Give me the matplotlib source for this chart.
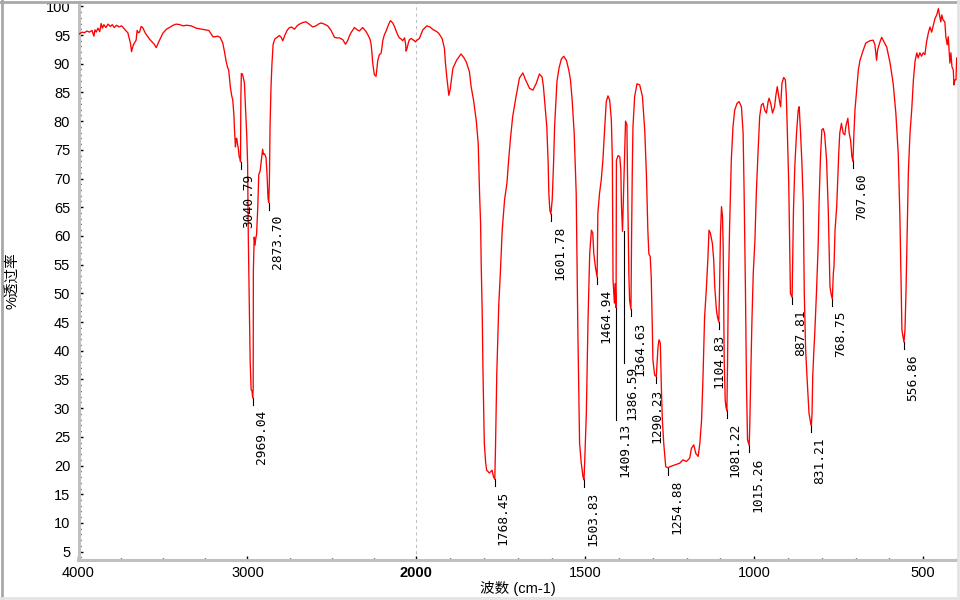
import numpy as np
import matplotlib.pyplot as plt
from matplotlib.lines import Line2D

plt.rcParams['font.family'] = ['Liberation Sans', 'Noto Sans CJK SC', 'DejaVu Sans']

# -------------------------
# spectrum (wavenumber cm-1, %T)
# -------------------------
wavenumber = [
    4000, 3990, 3978, 3965, 3950, 3935, 3920, 3909, 3903, 3895, 3885, 3874, 3866, 3858,
    3850, 3838, 3825, 3812, 3800, 3788, 3775, 3760, 3745, 3730, 3718, 3708, 3702, 3692,
    3686, 3680, 3675, 3665, 3659, 3653, 3645, 3639, 3629, 3620, 3604, 3590, 3580, 3564,
    3552, 3540, 3525, 3512, 3501, 3480, 3462, 3440, 3422, 3400, 3383, 3360, 3334, 3304,
    3270, 3250, 3229, 3215, 3205, 3190, 3176, 3162, 3146, 3136, 3126, 3118, 3111, 3101,
    3093, 3087, 3080, 3077, 3071, 3067, 3063, 3058, 3055, 3049, 3044, 3041, 3039, 3036,
    3030, 3024, 3018, 3012, 3008, 3004, 2999, 2995, 2989, 2984, 2978, 2973, 2969, 2966,
    2965, 2960, 2955, 2951, 2946, 2939, 2933, 2925, 2915, 2910, 2905, 2898, 2890, 2884,
    2878, 2874, 2870, 2866, 2860, 2855, 2848, 2838, 2825, 2811, 2800, 2791, 2778, 2767,
    2755, 2741, 2730, 2722, 2706, 2692, 2670, 2653, 2635, 2614, 2594, 2580, 2564, 2545,
    2525, 2505, 2485, 2470, 2456, 2436, 2420, 2407, 2397, 2387, 2367, 2350, 2337, 2318,
    2300, 2288, 2275, 2268, 2262, 2259, 2249, 2239, 2234, 2229, 2219, 2209, 2204, 2199,
    2190, 2179, 2165, 2154, 2140, 2130, 2120, 2110, 2101, 2090, 2081, 2070, 2064, 2061,
    2056, 2052, 2046, 2041, 2030, 2022, 2012, 2006, 2000, 1991, 1985, 1981, 1969, 1960,
    1952, 1940, 1934, 1924, 1917, 1914, 1910, 1904, 1900, 1897, 1892, 1881, 1868, 1860,
    1853, 1843, 1838, 1831, 1823, 1817, 1813, 1810, 1808, 1805, 1803, 1799, 1795, 1792,
    1784, 1776, 1772, 1768, 1766, 1762, 1756, 1752, 1746, 1739, 1732, 1727, 1722, 1715,
    1705, 1695, 1685, 1677, 1665, 1655, 1645, 1636, 1628, 1624, 1619, 1614, 1610, 1608,
    1605, 1602, 1598, 1594, 1591, 1584, 1578, 1571, 1564, 1556, 1549, 1544, 1539, 1533,
    1527, 1522, 1517, 1512, 1507, 1504, 1502, 1497, 1492, 1487, 1482, 1478, 1475, 1470,
    1465, 1463, 1458, 1453, 1448, 1443, 1438, 1433, 1428, 1423, 1420, 1418, 1414, 1412,
    1409, 1408, 1403, 1398, 1395, 1393, 1390, 1388, 1384, 1381, 1377, 1374, 1371, 1369,
    1365, 1363, 1361, 1359, 1354, 1347, 1339, 1331, 1324, 1319, 1315, 1312, 1308, 1305,
    1302, 1300, 1295, 1290, 1285, 1282, 1278, 1275, 1272, 1268, 1262, 1255, 1250, 1236,
    1221, 1211, 1201, 1191, 1186, 1179, 1173, 1166, 1161, 1156, 1152, 1147, 1142, 1137,
    1134, 1130, 1124, 1120, 1117, 1112, 1109, 1105, 1103, 1100, 1097, 1094, 1092, 1089,
    1086, 1084, 1081, 1079, 1077, 1073, 1068, 1063, 1058, 1051, 1045, 1038, 1033, 1030,
    1026, 1023, 1020, 1015, 1013, 1011, 1007, 1003, 998, 994, 989, 984, 979, 974,
    969, 964, 959, 956, 951, 946, 940, 936, 932, 926, 922, 918, 913, 908,
    905, 902, 898, 895, 893, 888, 886, 884, 880, 875, 870, 867, 863, 859,
    855, 852, 848, 844, 838, 833, 831, 829, 827, 824, 821, 816, 811, 808,
    804, 800, 796, 792, 786, 781, 778, 776, 773, 769, 766, 764, 761, 756,
    753, 750, 747, 742, 737, 732, 729, 723, 719, 715, 711, 708, 705, 702,
    697, 692, 687, 679, 670, 658, 648, 643, 638, 635, 628, 623, 616, 608,
    598, 589, 581, 574, 569, 566, 563, 559, 557, 554, 551, 547, 544, 539,
    534, 529, 524, 519, 515, 510, 505, 500, 495, 490, 485, 480, 475, 470,
    465, 460, 455, 452, 448, 445, 441, 436, 433, 429, 426, 421, 418, 415,
    411, 409, 406, 403, 401,
]
transmittance = [
    95.1, 95.3, 95.5, 95.4, 95.7, 95.5, 95.8, 94.8, 95.9, 95.5, 96.2, 95.6, 97.0, 96.2,
    96.8, 96.3, 96.9, 96.5, 96.8, 96.3, 96.7, 96.4, 96.6, 96.1, 95.7, 95.4, 94.7, 93.5,
    92.1, 92.8, 93.3, 93.8, 94.1, 95.8, 95.4, 95.5, 96.5, 96.3, 95.3, 94.7, 94.3, 93.8,
    93.4, 92.8, 93.8, 94.6, 95.3, 96.0, 96.3, 96.7, 96.9, 96.8, 96.6, 96.7, 96.6, 96.2,
    96.0, 95.9, 95.8, 95.2, 94.7, 94.7, 94.8, 94.6, 93.6, 92.1, 90.4, 89.4, 88.9, 85.9,
    84.4, 83.7, 81.0, 78.7, 75.5, 77.0, 77.0, 75.8, 75.5, 73.8, 73.5, 72.9, 84.0, 88.3,
    88.2, 87.5, 86.7, 82.5, 80.0, 77.5, 72.5, 60.0, 48.5, 38.2, 33.2, 33.0, 31.8, 33.4,
    53.9, 59.8, 58.4, 59.6, 60.2, 64.9, 70.7, 71.3, 73.8, 75.1, 74.2, 74.3, 73.6, 70.7,
    66.5, 65.8, 69.5, 79.4, 86.4, 89.9, 93.4, 94.3, 94.6, 94.9, 94.6, 94.0, 95.0, 95.7,
    96.2, 96.4, 96.2, 96.0, 96.6, 96.9, 97.2, 97.3, 96.9, 96.4, 96.6, 96.9, 97.1, 96.9,
    96.6, 95.8, 94.6, 94.5, 94.5, 94.2, 93.4, 94.0, 94.8, 95.4, 96.3, 95.9, 95.7, 96.3,
    95.7, 95.1, 94.3, 93.4, 91.5, 90.2, 88.1, 87.8, 89.0, 90.5, 91.6, 91.8, 92.8, 94.0,
    95.0, 95.7, 96.8, 97.5, 97.1, 96.5, 95.7, 95.0, 94.5, 94.3, 94.0, 94.5, 93.5, 92.2,
    92.6, 93.1, 93.8, 94.2, 94.4, 94.2, 94.0, 93.8, 94.0, 94.4, 95.3, 95.9, 96.6, 96.4,
    96.0, 95.6, 95.3, 94.4, 92.7, 90.1, 87.7, 84.5, 85.5, 86.9, 89.2, 90.6, 91.7, 91.1,
    90.4, 88.6, 86.0, 83.7, 80.2, 76.1, 67.4, 62.2, 54.6, 45.9, 36.7, 23.9, 20.5, 19.2,
    18.7, 19.2, 18.1, 17.6, 22.7, 36.1, 48.3, 52.9, 61.0, 66.3, 69.2, 73.2, 76.7, 80.8,
    84.3, 87.5, 88.4, 87.2, 85.7, 85.4, 86.6, 88.2, 87.7, 86.0, 82.5, 79.0, 72.7, 67.4,
    64.5, 63.8, 66.3, 72.7, 79.0, 86.9, 89.2, 90.8, 91.3, 90.6, 88.9, 87.2, 83.7, 77.9,
    67.4, 43.0, 23.9, 20.4, 18.1, 17.5, 20.4, 29.1, 45.4, 57.0, 61.0, 60.5, 57.0, 54.5,
    52.8, 63.9, 67.4, 69.7, 73.2, 78.5, 83.4, 84.4, 83.7, 80.2, 73.2, 52.3, 48.3, 51.7,
    47.5, 73.2, 74.0, 73.8, 71.5, 65.1, 60.8, 65.1, 73.2, 80.0, 79.4, 65.1, 52.9, 48.8,
    47.2, 60.5, 71.5, 79.0, 84.3, 86.5, 86.3, 84.3, 78.2, 70.3, 61.0, 56.9, 56.4, 52.9,
    44.8, 38.4, 35.8, 35.5, 40.6, 41.9, 41.3, 33.7, 27.9, 23.9, 19.8, 19.6, 19.8, 20.1,
    20.4, 21.0, 20.7, 21.3, 23.0, 23.6, 22.1, 21.6, 23.9, 27.9, 34.9, 45.9, 50.6, 56.4,
    61.0, 60.5, 58.7, 55.8, 51.2, 47.1, 45.9, 45.0, 50.0, 60.5, 65.1, 63.4, 58.1, 38.4,
    31.4, 30.3, 29.5, 38.4, 50.0, 61.6, 73.2, 79.0, 81.9, 83.1, 83.4, 82.5, 77.9, 67.4,
    50.0, 33.9, 24.5, 23.5, 27.8, 33.9, 45.0, 53.5, 59.3, 67.4, 74.4, 80.8, 82.8, 83.1,
    81.9, 81.4, 83.4, 84.0, 83.0, 81.4, 82.5, 84.5, 86.0, 83.7, 82.5, 86.6, 87.6, 87.2,
    84.3, 77.9, 69.2, 57.0, 50.0, 49.3, 56.9, 64.4, 72.1, 77.9, 81.9, 82.5, 77.9, 72.7,
    65.7, 50.0, 40.2, 35.5, 29.1, 27.4, 27.0, 29.1, 35.5, 39.6, 43.0, 50.0, 58.1, 66.3,
    73.8, 78.5, 78.7, 77.9, 73.2, 64.5, 57.0, 51.2, 50.0, 49.0, 53.5, 54.7, 61.0, 65.1,
    69.7, 74.4, 77.9, 79.6, 77.9, 77.6, 79.1, 80.5, 77.9, 76.7, 73.8, 73.0, 77.9, 81.9,
    85.4, 88.9, 90.6, 92.1, 93.6, 94.0, 94.1, 93.3, 90.6, 92.4, 93.8, 94.6, 93.8, 92.9,
    90.1, 86.6, 81.4, 74.4, 63.4, 53.0, 43.6, 42.2, 41.5, 43.6, 50.1, 61.6, 71.0, 78.0,
    82.0, 87.2, 90.5, 91.9, 91.0, 91.9, 91.3, 91.9, 91.6, 93.8, 95.3, 96.4, 95.5, 96.7,
    97.9, 98.5, 99.6, 98.5, 97.3, 98.5, 97.6, 97.3, 94.7, 93.3, 94.7, 90.1, 91.9, 89.5,
    88.9, 86.3, 87.2, 87.2, 91.0,
]

# picked peaks
peak_wn = [3040.79, 2969.04, 2873.70, 1768.45, 1601.78, 1503.83, 1464.94, 1409.13, 1386.59,
           1364.63, 1290.23, 1254.88, 1104.83, 1081.22, 1015.26, 887.81, 831.21, 768.75,
           707.60, 556.86]
peak_t = [72.9, 31.8, 65.8, 17.6, 63.8, 17.5, 52.8, 47.5, 60.8,
          47.2, 35.5, 19.6, 45.0, 29.5, 23.5, 49.3, 27.0, 49.0,
          73.0, 41.5]

# where a longer leader line is drawn, and labels pushed sideways
leader_end = {1409.13: 27.9, 1386.59: 37.9}
label_dx = {1290.23: 1, 1104.83: 0}

xticks = [4000, 3000, 2000, 1500, 1000, 500]
xminor = [3750, 3500, 3250, 2750, 2500, 2250, 1900, 1800, 1700, 1600, 1400, 1300, 1200,
          1100, 900, 800, 700, 600, 400]
yticks = list(range(5, 101, 5))


# -------------------------
# axis: 4000-2000 at half the scale of 2000-400
# -------------------------
def fwd(w):
    w = np.asarray(w, dtype=float)
    return np.where(w > 2000, 2000 + (w - 2000) * 0.5, w)


def inv(u):
    u = np.asarray(u, dtype=float)
    return np.where(u > 2000, 2000 + (u - 2000) * 2.0, u)


fig = plt.figure(figsize=(9.6, 6), dpi=100)
ax = fig.add_axes([78.5 / 960, 40 / 600, (957 - 78.5) / 960, 558 / 600])
ax.set_xscale('function', functions=(fwd, inv))
ax.set_xlim(4000, 400)
ax.set_ylim(3.55, 100.75)

ax.axvline(2000, color='#c0c0c0', lw=0.75, ls=(0, (3, 3)), zorder=1)
ax.plot(wavenumber, transmittance, color='#ff0000', lw=0.95, zorder=3)

for wn, t in zip(peak_wn, peak_t):
    end = leader_end.get(wn, t - 1.2)
    ax.plot([wn, wn], [t, end], color='black', lw=0.8, zorder=2)
    gap = 3 if wn in leader_end else 5
    ax.annotate(f'{wn:.2f}', xy=(wn, end), xytext=(label_dx.get(wn, 8.5), -gap),
                textcoords='offset pixels', rotation=90, ha='center', va='top',
                fontsize=9.3, family='DejaVu Sans Mono', color='black')

for s in ['top', 'right']:
    ax.spines[s].set_visible(False)
for s in ['left', 'bottom']:
    ax.spines[s].set_color('#c0c0c0')
    ax.spines[s].set_linewidth(2.2)

ax.set_yticks(yticks)
ax.set_yticks(range(4, 101), minor=True)
ax.set_xticks(xticks, [str(v) for v in xticks])
ax.get_xticklabels()[2].set_fontweight('bold')
ax.set_xticks(xminor, minor=True)
ax.tick_params(axis='both', which='major', direction='in', length=3, width=1,
               color='black', labelsize=10.5)
ax.tick_params(axis='both', which='minor', direction='in', length=1.5, width=1,
               color='black')
ax.tick_params(axis='y', which='major', pad=6)
ax.tick_params(axis='x', which='major', pad=4)

fig.text(518 / 960, 1 - 588 / 600, '波数 (cm-1)', ha='center', va='center', fontsize=10.5)
fig.text(12 / 960, 1 - 281 / 600, '%透过率', ha='center', va='center', rotation=90,
         fontsize=10.5)

# window frame
fig.add_artist(Line2D([0, 1], [0.997, 0.997], transform=fig.transFigure,
                      color='#a8a8a8', lw=2))
fig.add_artist(Line2D([0.002, 0.002], [0, 1], transform=fig.transFigure,
                      color='#a8a8a8', lw=2))
fig.add_artist(Line2D([0, 1], [0.003, 0.003], transform=fig.transFigure,
                      color='#e4e4e4', lw=2))
fig.add_artist(Line2D([0.998, 0.998], [0, 1], transform=fig.transFigure,
                      color='#e4e4e4', lw=2))

plt.savefig('out.png', dpi=100)
print('Saved: out.png')
